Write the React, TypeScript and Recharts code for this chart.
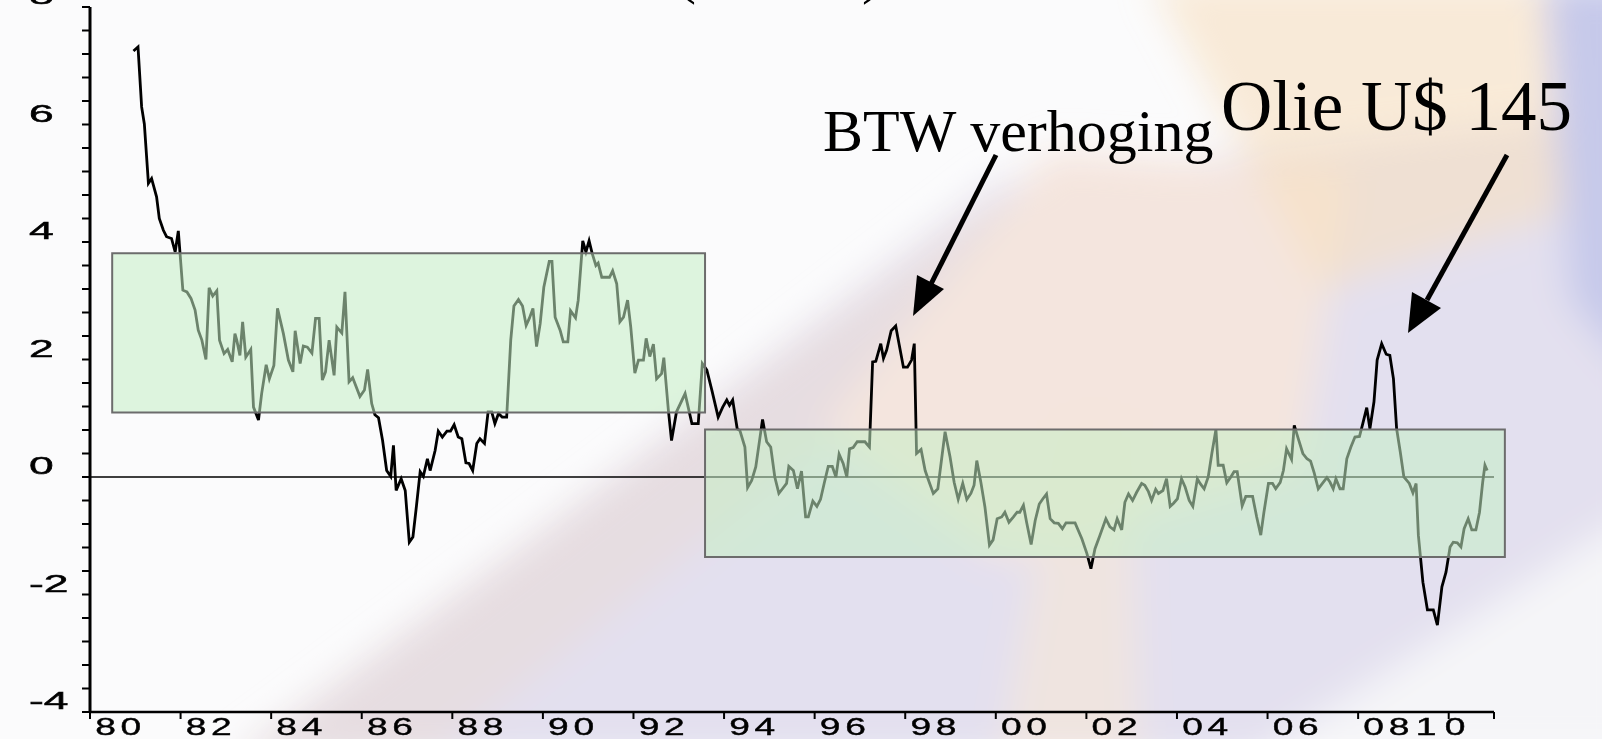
import { LineChart, Line, XAxis, YAxis, ReferenceArea, ReferenceLine } from "recharts";

// decimal years of the monthly observations
const months = [
  1980.96, 1981.06, 1981.14, 1981.2, 1981.29, 1981.36, 1981.41, 1981.47, 1981.53, 1981.62, 1981.69, 1981.8, 1981.88, 1981.95,
  1982.05, 1982.14, 1982.23, 1982.32, 1982.39, 1982.47, 1982.56, 1982.63, 1982.71, 1982.8, 1982.86, 1982.96,
  1983.04, 1983.14, 1983.2, 1983.24, 1983.31, 1983.37, 1983.44, 1983.55, 1983.61, 1983.72, 1983.79, 1983.89, 1983.96,
  1984.06, 1984.14, 1984.27, 1984.38, 1984.48, 1984.53, 1984.64, 1984.71, 1984.8, 1984.9, 1984.98,
  1985.06, 1985.13, 1985.2, 1985.28, 1985.39, 1985.45, 1985.56, 1985.63, 1985.72, 1985.8, 1985.96,
  1986.06, 1986.13, 1986.22, 1986.29, 1986.37, 1986.46, 1986.55, 1986.64, 1986.7, 1986.76, 1986.87, 1986.96,
  1987.05, 1987.13, 1987.21, 1987.29, 1987.36, 1987.45, 1987.51, 1987.62, 1987.69, 1987.78, 1987.88, 1987.96,
  1988.04, 1988.13, 1988.21, 1988.3, 1988.37, 1988.45, 1988.54, 1988.61, 1988.71, 1988.79, 1988.87, 1988.94,
  1989.02, 1989.1, 1989.2, 1989.29, 1989.36, 1989.46, 1989.55, 1989.63, 1989.7, 1989.78, 1989.86, 1989.94,
  1990.02, 1990.14, 1990.2, 1990.27, 1990.38, 1990.45, 1990.55, 1990.61, 1990.72, 1990.78, 1990.88, 1990.95,
  1991.02, 1991.09, 1991.17, 1991.22, 1991.3, 1991.47, 1991.54, 1991.63, 1991.7, 1991.78, 1991.87, 1991.94,
  1992.03, 1992.11, 1992.22, 1992.28, 1992.36, 1992.44, 1992.51, 1992.62, 1992.67, 1992.77, 1992.84, 1992.95,
  1993.14, 1993.29, 1993.43, 1993.52, 1993.62, 1993.73, 1993.87, 1993.97,
  1994.06, 1994.12, 1994.19, 1994.29, 1994.35, 1994.46, 1994.52, 1994.61, 1994.7, 1994.85, 1994.94,
  1995.03, 1995.12, 1995.21, 1995.29, 1995.38, 1995.43, 1995.53, 1995.62, 1995.71, 1995.8, 1995.86, 1995.96,
  1996.05, 1996.13, 1996.21, 1996.3, 1996.39, 1996.47, 1996.54, 1996.63, 1996.71, 1996.77, 1996.85, 1996.94,
  1997.11, 1997.21, 1997.28, 1997.35, 1997.46, 1997.52, 1997.59, 1997.69, 1997.79, 1997.87, 1997.96,
  1998.05, 1998.14, 1998.2, 1998.25, 1998.35, 1998.44, 1998.53, 1998.62, 1998.72, 1998.88, 1998.99,
  1999.08, 1999.17, 1999.27, 1999.36, 1999.45, 1999.52, 1999.58, 1999.67, 1999.76, 1999.86, 1999.94,
  2000.03, 2000.13, 2000.2, 2000.29, 2000.39, 2000.47, 2000.53, 2000.61, 2000.68, 2000.78, 2000.87, 2000.96,
  2001.04, 2001.12, 2001.2, 2001.29, 2001.38, 2001.47, 2001.55, 2001.75, 2001.9,
  2002.01, 2002.1, 2002.19, 2002.3, 2002.43, 2002.52, 2002.61, 2002.68, 2002.78, 2002.85, 2002.93,
  2003.02, 2003.11, 2003.22, 2003.29, 2003.37, 2003.44, 2003.53, 2003.59, 2003.69, 2003.77, 2003.85, 2003.92,
  2004.01, 2004.1, 2004.18, 2004.27, 2004.35, 2004.45, 2004.51, 2004.6, 2004.69, 2004.77, 2004.86, 2004.91,
  2005.02, 2005.1, 2005.19, 2005.26, 2005.33, 2005.44, 2005.52, 2005.67, 2005.76, 2005.85, 2005.92,
  2006.02, 2006.11, 2006.18, 2006.28, 2006.35, 2006.42, 2006.53, 2006.59, 2006.68, 2006.78, 2006.87, 2006.95,
  2007.03, 2007.12, 2007.22, 2007.31, 2007.38, 2007.45, 2007.51, 2007.6, 2007.67, 2007.75, 2007.84, 2007.93,
  2008.03, 2008.1, 2008.19, 2008.26, 2008.35, 2008.42, 2008.52, 2008.62, 2008.7, 2008.78, 2008.85, 2008.93,
  2009.01, 2009.13, 2009.21, 2009.28, 2009.33, 2009.43, 2009.53, 2009.66, 2009.75, 2009.85, 2009.94,
  2010.03, 2010.1, 2010.19, 2010.27, 2010.34, 2010.43, 2010.51, 2010.6, 2010.68, 2010.75, 2010.8, 2010.85,
];

const inflation = [
  7.25, 7.32, 6.3, 6.01, 5.0, 5.08, 4.94, 4.77, 4.4, 4.2, 4.09, 4.06, 3.83, 4.19,
  3.18, 3.15, 3.04, 2.84, 2.5, 2.33, 2.0, 3.22, 3.08, 3.17, 2.33, 2.1,
  2.17, 1.96, 2.44, 2.33, 2.07, 2.64, 2.04, 2.17, 1.19, 0.97, 1.42, 1.91, 1.67,
  1.9, 2.87, 2.44, 1.99, 1.79, 2.49, 1.93, 2.23, 2.21, 2.11, 2.7,
  2.7, 1.65, 1.79, 2.33, 1.73, 2.55, 2.45, 3.15, 1.62, 1.69, 1.37,
  1.48, 1.83, 1.25, 1.06, 1.01, 0.62, 0.11, 0.01, 0.54, -0.23, -0.03, -0.23,
  -1.11, -1.02, -0.48, 0.09, 0.01, 0.31, 0.11, 0.45, 0.78, 0.68, 0.78, 0.78,
  0.89, 0.68, 0.65, 0.24, 0.23, 0.11, 0.57, 0.65, 0.57, 1.11, 1.11, 0.91,
  1.08, 1.02, 1.02, 2.33, 2.91, 3.02, 2.91, 2.58, 2.7, 2.87, 2.22, 2.61,
  3.23, 3.67, 3.67, 2.72, 2.5, 2.3, 2.3, 2.83, 2.71, 3.01, 4.02, 3.83,
  4.02, 3.8, 3.6, 3.64, 3.4, 3.4, 3.51, 3.29, 2.64, 2.72, 3.01, 2.55,
  1.77, 1.99, 1.99, 2.36, 2.05, 2.26, 1.67, 1.76, 2.03, 1.14, 0.62, 1.11,
  1.42, 0.91, 0.91, 1.93, 1.82, 1.48, 1.02, 1.19,
  1.31, 1.22, 1.31, 0.82, 0.79, 0.51, -0.18, -0.06, 0.17, 0.98, 0.6,
  0.51, 0.0, -0.28, -0.2, -0.11, 0.18, 0.11, -0.2, 0.1, -0.68, -0.68, -0.41,
  -0.5, -0.38, -0.11, 0.18, 0.18, 0.0, 0.39, 0.23, 0.0, 0.48, 0.5, 0.6,
  0.6, 0.51, 1.96, 1.97, 2.27, 2.02, 2.16, 2.49, 2.57, 2.24, 1.87,
  1.87, 1.99, 2.27, 0.4, 0.47, 0.11, -0.09, -0.28, -0.2, 0.77, 0.34,
  -0.09, -0.38, -0.11, -0.38, -0.28, -0.14, 0.28, -0.09, -0.51, -1.16, -1.07,
  -0.71, -0.68, -0.6, -0.77, -0.68, -0.6, -0.6, -0.48, -0.77, -1.15, -0.74, -0.46,
  -0.37, -0.29, -0.71, -0.78, -0.79, -0.88, -0.78, -0.78, -1.05,
  -1.3, -1.56, -1.22, -0.99, -0.71, -0.85, -0.9, -0.71, -0.9, -0.43, -0.29,
  -0.4, -0.26, -0.11, -0.14, -0.25, -0.4, -0.21, -0.28, -0.23, -0.03, -0.5, -0.45,
  -0.37, -0.03, -0.17, -0.4, -0.5, -0.03, -0.11, -0.2, 0.0, 0.4, 0.81, 0.2,
  0.2, -0.1, 0.0, 0.09, 0.09, -0.49, -0.33, -0.33, -0.68, -0.99, -0.6,
  -0.11, -0.11, -0.2, -0.09, 0.11, 0.48, 0.3, 0.88, 0.65, 0.4, 0.31, 0.27,
  0.07, -0.2, -0.1, -0.01, -0.09, -0.2, -0.03, -0.2, -0.2, 0.31, 0.51, 0.68,
  0.69, 0.9, 1.18, 0.82, 1.28, 1.99, 2.27, 2.09, 2.07, 1.67, 0.82, 0.43,
  0.0, -0.11, -0.27, -0.11, -0.99, -1.79, -2.26, -2.26, -2.52, -1.87, -1.62,
  -1.19, -1.11, -1.12, -1.19, -0.88, -0.71, -0.9, -0.9, -0.6, -0.09, 0.2, 0.11,
];

const xTickYears = [1980, 1982, 1984, 1986, 1988, 1990, 1992, 1994, 1996, 1998, 2000, 2002, 2004, 2006, 2008, 2010, 2011];
const yLabels = [-4, -2, 0, 2, 4, 6, 8];

// the two shaded regimes
const bandStart = [1980.49, 1993.58];
const bandEnd = [1993.58, 2011.24];
const bandLow = [1.1, -1.36];
const bandHigh = [3.81, 0.81];

const yTicks = Array.from({ length: 31 }, (_, i) => Math.round((-4 + i * 0.4) * 10) / 10);
const data = months.map((t, i) => ({ t, v: inflation[i] }));

const sans = "'Liberation Sans', Arial, sans-serif";
const serif = "'Liberation Serif', 'Times New Roman', serif";

function YTick(props: any) {
  const { y, payload } = props;
  if (!yLabels.includes(payload.value)) return <g />;
  return (
    <g transform={`translate(29, ${y - 3}) scale(1.85, 1)`}>
      <text x={0} y={0} fontSize={24} fontFamily={sans} fill="#000" stroke="#000" strokeWidth={0.5}>
        {payload.value}
      </text>
    </g>
  );
}

function XTick(props: any) {
  const { x, y, payload } = props;
  const yr = payload.value;
  if (yr % 2 !== 0) return <g />;
  const label = String(yr).slice(2);
  const style = { fontSize: 24, fontFamily: sans, fill: "#000", stroke: "#000", strokeWidth: 0.4 };
  if (yr === 2010) {
    return (
      <g>
        <g transform={`translate(${x - 33}, ${y + 14}) scale(1.55, 1)`}>
          <text {...style}>1</text>
        </g>
        <g transform={`translate(${x - 4}, ${y + 14}) scale(1.55, 1)`}>
          <text {...style}>0</text>
        </g>
      </g>
    );
  }
  return (
    <g transform={`translate(${x + 5.2}, ${y + 14}) scale(1.55, 1)`}>
      <text {...style} letterSpacing={3}>
        {label}
      </text>
    </g>
  );
}

function Background() {
  return (
    <svg width={1602} height={739} style={{ position: "absolute", left: 0, top: 0 }}>
      <defs>
        <filter id="soft" x="-20%" y="-20%" width="140%" height="140%">
          <feGaussianBlur stdDeviation="18" />
        </filter>
      </defs>
      <rect width={1602} height={739} fill="#fbfbfc" />
      <g filter="url(#soft)">
        <polygon points="240,760 1000,180 1640,110 1640,760" fill="#e3e0ef" />
        <polygon points="230,760 430,760 1060,260 990,200" fill="#e7dcdc" opacity={0.7} />
        <polygon points="820,430 1050,150 1350,170 1300,470 1000,560" fill="#f4e5de" />
        <polygon points="1000,760 1060,420 1130,420 1140,760" fill="#f3e6da" opacity={0.7} />
        <polygon points="1150,-20 1640,-20 1640,190 1320,290" fill="#f6dfbf" opacity={0.6} />
        <polygon points="1545,-20 1640,-20 1640,380 1570,300" fill="#c6c9ea" />
        <polygon points="1250,760 1640,510 1640,760" fill="#f5f5f8" />
      </g>
    </svg>
  );
}

function Annotations() {
  return (
    <svg width={1602} height={739} style={{ position: "absolute", left: 0, top: 0, pointerEvents: "none" }}>
      <text x={676} y={-8} fontSize={60} fontFamily={serif} fill="#000">(</text>
      <text x={862} y={-8} fontSize={60} fontFamily={serif} fill="#000">)</text>
      <text x={823} y={151} fontSize={60} fontFamily={serif} fill="#000">BTW verhoging</text>
      <text x={1221} y={130} fontSize={71} fontFamily={serif} fill="#000">Olie U$ 145</text>
      <line x1={996} y1={155} x2={931} y2={284} stroke="#000" strokeWidth={5} />
      <polygon points="913,316 944,289 917,275" fill="#000" />
      <line x1={1507} y1={155} x2={1427} y2={300} stroke="#000" strokeWidth={5} />
      <polygon points="1408,333 1441,308 1412,292" fill="#000" />
    </svg>
  );
}

export default function App() {
  return (
    <div style={{ position: "absolute", left: 0, top: 0, width: 1602, height: 739, overflow: "hidden" }}>
      <Background />
      <div style={{ position: "absolute", left: 0, top: 0 }}>
        <LineChart width={1602} height={739} data={data} margin={{ top: 7, right: 108, bottom: 0, left: 0 }}>
          <XAxis
            dataKey="t"
            type="number"
            domain={[1980, 2011]}
            ticks={xTickYears}
            interval={0}
            height={27}
            tickSize={7}
            tick={XTick}
            tickLine={{ stroke: "#000", strokeWidth: 2 }}
            axisLine={{ stroke: "#000", strokeWidth: 2.5 }}
          />
          <YAxis
            type="number"
            domain={[-4, 8]}
            ticks={yTicks}
            interval={0}
            width={90}
            tickSize={8}
            tick={YTick}
            tickLine={{ stroke: "#000", strokeWidth: 2 }}
            axisLine={{ stroke: "#000", strokeWidth: 3 }}
          />
          <ReferenceLine y={0} stroke="#000" strokeWidth={1.5} zIndex={300} />
          <Line
            type="linear"
            dataKey="v"
            stroke="#000"
            strokeWidth={2.8}
            dot={false}
            isAnimationActive={false}
          />
          {bandStart.map((x1, i) => (
            <ReferenceArea
              key={i}
              x1={x1}
              x2={bandEnd[i]}
              y1={bandLow[i]}
              y2={bandHigh[i]}
              ifOverflow="visible"
              fill="#c4eec4"
              fillOpacity={0.55}
              stroke="#6c6c6c"
              strokeOpacity={1}
              strokeWidth={2}
              zIndex={450}
            />
          ))}
        </LineChart>
      </div>
      <Annotations />
    </div>
  );
}
